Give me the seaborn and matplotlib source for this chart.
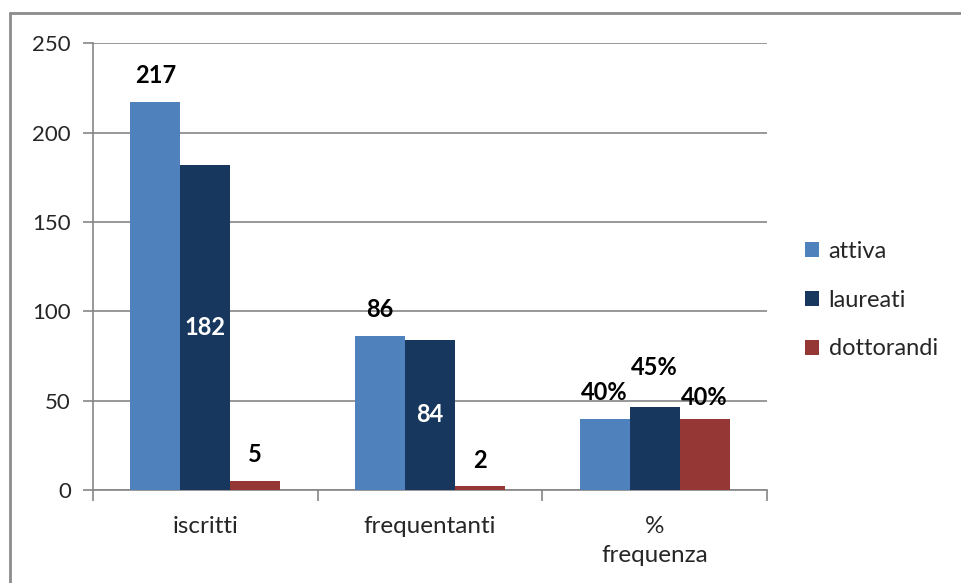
import pandas as pd
import matplotlib.pyplot as plt
from matplotlib.lines import Line2D
import seaborn as sns

# data
categorie = ['iscritti', 'frequentanti', '%\nfrequenza']
serie = ['attiva', 'laureati', 'dottorandi']
attiva = [217, 86, 39.6]
laureati = [182, 84, 46.2]
dottorandi = [5, 2, 40]
etichette = {
    'attiva': ['217', '86', '40%'],
    'laureati': ['182', '84', '45%'],
    'dottorandi': ['5', '2', '40%'],
}
colori = ['#4F81BD', '#17375E', '#953735']


def crea_grafico():
    rows = []
    for nome, valori in zip(serie, [attiva, laureati, dottorandi]):
        for cat, v in zip(categorie, valori):
            rows.append({'categoria': cat, 'serie': nome, 'valore': v})
    df = pd.DataFrame(rows)

    sns.set_style('white')
    plt.rcParams['font.family'] = ['Lato', 'DejaVu Sans']

    fig = plt.figure(figsize=(9.62, 5.83), dpi=100)
    ax = fig.add_axes([0.0967, 0.1595, 0.7005, 0.7665])

    sns.barplot(data=df, x='categoria', y='valore', hue='serie', order=categorie,
                hue_order=serie, palette=colori, width=0.667, gap=0,
                saturation=1, linewidth=0, ax=ax, zorder=3)

    ax.set_ylim(0, 250)
    ax.set_xlim(-0.5, 2.5)
    ax.set_yticks([0, 50, 100, 150, 200, 250])
    ax.yaxis.grid(True, color='#868686', linewidth=1.2, zorder=0)
    ax.set_xlabel('')
    ax.set_ylabel('')

    for s in ['top', 'right']:
        ax.spines[s].set_visible(False)
    for s in ['left', 'bottom']:
        ax.spines[s].set_color('#868686')
        ax.spines[s].set_linewidth(1.2)

    ax.tick_params(axis='y', length=7, color='#868686', width=1.2,
                   labelsize=16, pad=9, left=True)
    ax.set_xticks([0, 1, 2])
    ax.set_xticklabels(categorie, fontsize=17.5, linespacing=1.45)
    ax.tick_params(axis='x', which='major', length=0, pad=19)
    ax.set_xticks([-0.5, 0.5, 1.5, 2.5], minor=True)
    ax.tick_params(axis='x', which='minor', length=8, color='#868686',
                   width=1.2, bottom=True)

    # value labels: bar 'laureati' in the first two groups sits inside in white
    spostamento = {('laureati', 2): 29, ('dottorandi', 2): 15}
    for cont, nome in zip(ax.containers, serie):
        for i, bar in enumerate(cont):
            x = bar.get_x() + bar.get_width() / 2
            h = bar.get_height()
            testo = etichette[nome][i]
            if nome == 'laureati' and i < 2:
                ax.text(x, h / 2, testo, ha='center', va='center', color='white',
                        fontsize=17, fontweight='bold', zorder=4)
            else:
                dy = spostamento.get((nome, i), 19)
                ax.annotate(testo, (x, h), xytext=(0, dy), textcoords='offset points',
                            ha='center', va='center', color='black',
                            fontsize=17, fontweight='bold', zorder=4)

    handles, labels = ax.get_legend_handles_labels()
    ax.legend(handles, labels, loc='center left', bbox_to_anchor=(1.025, 0.425),
              frameon=False, fontsize=17, handlelength=0.6, handleheight=0.6,
              handletextpad=0.4, labelspacing=1.18)

    # outer chart border (right and bottom edges fall outside the image)
    fig.add_artist(Line2D([10 / 962, 10 / 962], [0, 1 - 13 / 583],
                          color='#8C8C8C', linewidth=2))
    fig.add_artist(Line2D([10 / 962, 1], [1 - 13 / 583, 1 - 13 / 583],
                          color='#8C8C8C', linewidth=2))

    plt.savefig('out.png', dpi=100)


if __name__ == "__main__":
    crea_grafico()
